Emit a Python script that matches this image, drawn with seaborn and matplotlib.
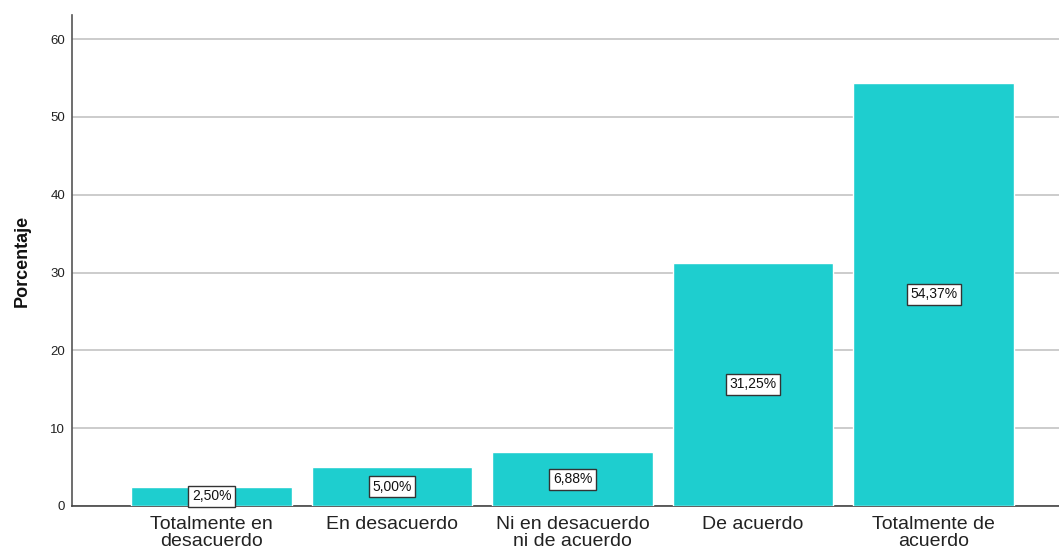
import matplotlib
matplotlib.use('Agg')
import matplotlib.pyplot as plt
import seaborn as sns
import pandas as pd

categorias = ['Totalmente en\ndesacuerdo', 'En desacuerdo',
              'Ni en desacuerdo\nni de acuerdo', 'De acuerdo',
              'Totalmente de\nacuerdo']
porcentajes = [2.50, 5.00, 6.88, 31.25, 54.37]
etiquetas = ['2,50%', '5,00%', '6,88%', '31,25%', '54,37%']
ticks_y = [0, 10, 20, 30, 40, 50, 60]

df = pd.DataFrame({'categoria': categorias, 'porcentaje': porcentajes})

sns.set_style('white')
plt.rcParams['font.family'] = ['Liberation Sans', 'DejaVu Sans']

fig = plt.figure(figsize=(10.59, 5.55), dpi=100)
ax = fig.add_axes([72 / 1059, 1 - 506 / 555, 1 - 72 / 1059, (506 - 15) / 555])

sns.barplot(data=df, x='categoria', y='porcentaje', color='#1ececf',
            saturation=1, width=0.89, ax=ax, zorder=3)

for i, (v, t) in enumerate(zip(porcentajes, etiquetas)):
    ax.text(i, v / 2, t, ha='center', va='center', fontsize=10, zorder=5,
            color='#111111',
            bbox=dict(boxstyle='square,pad=0.25', fc='white', ec='#333333', lw=1))

ax.set_xlim(-0.773, 4.695)
ax.set_ylim(0, 63.1)
ax.set_yticks(ticks_y)
ax.yaxis.grid(True, color='#c8c8c8', lw=1.3, zorder=0)
ax.set_axisbelow(True)
ax.tick_params(axis='y', labelsize=9.5, length=0, pad=5, colors='#222222')
ax.tick_params(axis='x', labelsize=14, length=0, pad=7, colors='#222222')
for lbl in ax.get_xticklabels():
    lbl.set_linespacing(1.05)
ax.set_xlabel('')
ax.set_ylabel('Porcentaje', fontsize=13, fontweight='bold', labelpad=14,
              color='#111111')
for s in ['top', 'right']:
    ax.spines[s].set_visible(False)
ax.spines['left'].set_color('#555555')
ax.spines['bottom'].set_color('#444444')
ax.spines['left'].set_linewidth(1.2)
ax.spines['bottom'].set_linewidth(1.2)

fig.savefig('out.png', dpi=100)
